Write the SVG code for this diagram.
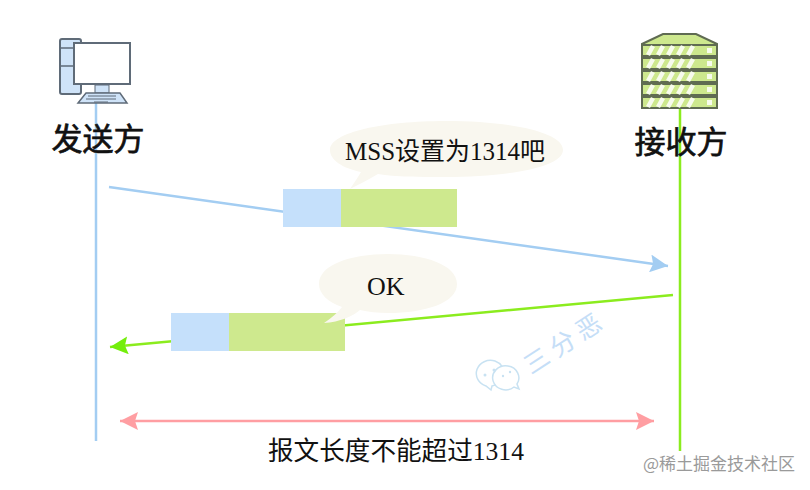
<svg xmlns="http://www.w3.org/2000/svg" width="810" height="490" viewBox="0 0 810 490">
<style>
.t{font-family:"Liberation Serif","Noto Sans CJK SC",serif;fill:#111}
.big{font-size:31px;stroke:#111;stroke-width:.7}
.mid{font-size:25px}
.ok{font-size:26px}
.cap{font-size:25.6px}
.wm{font-family:"Noto Sans CJK SC",sans-serif;font-size:25px;fill:#c5def7;letter-spacing:6px}
.wq{fill:#fff;stroke:#c8e2f2;stroke-width:1.5}
.sv{fill:#cde88e;stroke:#5f6b52;stroke-width:2}
.st{stroke:#fff;stroke-width:4.5;opacity:.85}
.pc{stroke:#5f6b78;stroke-width:2;fill:#cfe3f8}
.line{fill:none;stroke-width:2.5}
</style>
<defs>
<marker id="ab" markerUnits="userSpaceOnUse" markerWidth="20" markerHeight="18" refX="18" refY="9" orient="auto"><path d="M0 0L18 9L0 18L3 9Z" fill="#a3cdf2"/></marker>
<marker id="ag" markerUnits="userSpaceOnUse" markerWidth="20" markerHeight="18" refX="18" refY="9" orient="auto"><path d="M0 0L18 9L0 18L3 9Z" fill="#74ee0c"/></marker>
<marker id="ap" markerUnits="userSpaceOnUse" markerWidth="20" markerHeight="18" refX="18" refY="9" orient="auto"><path d="M0 0L18 9L0 18L3 9Z" fill="#ff9ea2"/></marker>
<marker id="ap2" markerUnits="userSpaceOnUse" markerWidth="20" markerHeight="18" refX="2" refY="9" orient="auto"><path d="M20 0L2 9L20 18L17 9Z" fill="#ff9ea2"/></marker>
</defs>
<rect width="810" height="490" fill="#fff"/>
<g id="connectors">
<path class="line" d="M96 103V441" stroke="#a3cdf2"/>
<path class="line" d="M680 108V451" stroke="#8bec1e"/>
<path class="line" d="M109 187L668 266" stroke="#a3cdf2" marker-end="url(#ab)"/>
<path class="line" d="M673 295L110 347" stroke="#8bec1e" marker-end="url(#ag)"/>
<path class="line" d="M120 421H654" stroke="#ff9ea2" marker-start="url(#ap2)" marker-end="url(#ap)"/>
</g>
<g id="sender">
<rect class="pc" x="60" y="39" width="21" height="55" rx="2"/>
<path d="M60 48H81M60 66H81" stroke="#5f6b78" stroke-width="1.5"/>
<rect x="74" y="43" width="56" height="41" fill="#fff" stroke="#5f6b78" stroke-width="2"/>
<rect x="95" y="85" width="14" height="8" fill="#cfe3f8" stroke="#5f6b78"/>
<path d="M86 93H120L127 103H78Z" fill="#cfe3f8" stroke="#5f6b78" stroke-width="1.5"/>
<path d="M88 96H116M86 99H116M94 102H108" stroke="#5f6b78" stroke-width="1"/>
<text class="t big" x="98" y="150" text-anchor="middle">发送方</text>
</g>
<g id="receiver">
<path class="sv" d="M642 44L663 34H696L717 44V46H642Z"/>
<g id="srv">
<rect class="sv" x="642" y="45" width="75" height="11"/>
<rect class="sv" x="642" y="58" width="75" height="11"/>
<rect class="sv" x="642" y="71" width="75" height="11"/>
<rect class="sv" x="642" y="84" width="75" height="11"/>
<rect class="sv" x="642" y="97" width="75" height="11"/>
</g>
<path class="st" d="M648 55L653 46M658 55L663 46M668 55L673 46M678 55L683 46M688 55L693 46M648 68L653 59M658 68L663 59M668 68L673 59M678 68L683 59M688 68L693 59M648 81L653 72M658 81L663 72M668 81L673 72M678 81L683 72M688 81L693 72M648 94L653 85M658 94L663 85M668 94L673 85M678 94L683 85M688 94L693 85M648 107L653 98M658 107L663 98M668 107L673 98M678 107L683 98M688 107L693 98"/>
<path d="M707 48h5v5h-5zM707 61h5v5h-5zM707 74h5v5h-5zM707 87h5v5h-5zM707 100h5v5h-5z" fill="#fff" opacity=".85"/>
<text class="t big" x="681" y="153" text-anchor="middle">接收方</text>
</g>
<g id="packet-1">
<rect x="283" y="189" width="58" height="38" fill="#c5e0fb"/>
<rect x="341" y="189" width="116" height="38" fill="#cee98e"/>
</g>
<g id="bubble-1">
<path d="M330 150C330 132 385 121 445 121C510 121 563 132 563 150C563 168 505 177 445 177C420 177 395 177 378 174C368 180 358 185 350 189C354 183 358 177 361 172C342 168 330 160 330 150Z" fill="#f9f7ef"/>
<text class="t mid" x="345" y="160">MSS设置为1314吧</text>
</g>
<g id="packet-2">
<rect x="171" y="313" width="58" height="38" fill="#c5e0fb"/>
<rect x="229" y="313" width="116" height="38" fill="#cee98e"/>
</g>
<g id="bubble-2">
<path d="M319 284C319 265 350 254 388 254C425 254 457 265 457 284C457 303 425 313 388 313C378 313 368 312 360 310C353 316 340 322 324 323C332 318 338 312 342 307C328 302 319 294 319 284Z" fill="#f9f7ef"/>
<text class="t ok" x="367" y="295">OK</text>
</g>
<g id="watermark">
<path class="wq" d="M495 361a14 13 0 1 0 -9 25l5 4l1-4a14 13 0 0 0 3-25Z"/>
<path class="wq" d="M508 366a13 12 0 1 0 6 21l5 2l-2-5a13 12 0 0 0 -9-18Z"/>
<circle cx="485" cy="375" r="1.5" fill="#c8e2f2"/><circle cx="494" cy="370" r="1.5" fill="#c8e2f2"/>
<circle cx="503" cy="376" r="1.2" fill="#c8e2f2"/><circle cx="510" cy="372" r="1.2" fill="#c8e2f2"/>
<text class="wm" transform="translate(531 375) rotate(-33)">三分恶</text>
</g>
<g id="caption">
<text class="t cap" x="396" y="460" text-anchor="middle">报文长度不能超过1314</text>
</g>
<text x="643" y="470" font-family="'Noto Sans CJK SC',sans-serif" font-size="17" fill="#9a9a9a">@稀土掘金技术社区</text>
</svg>
